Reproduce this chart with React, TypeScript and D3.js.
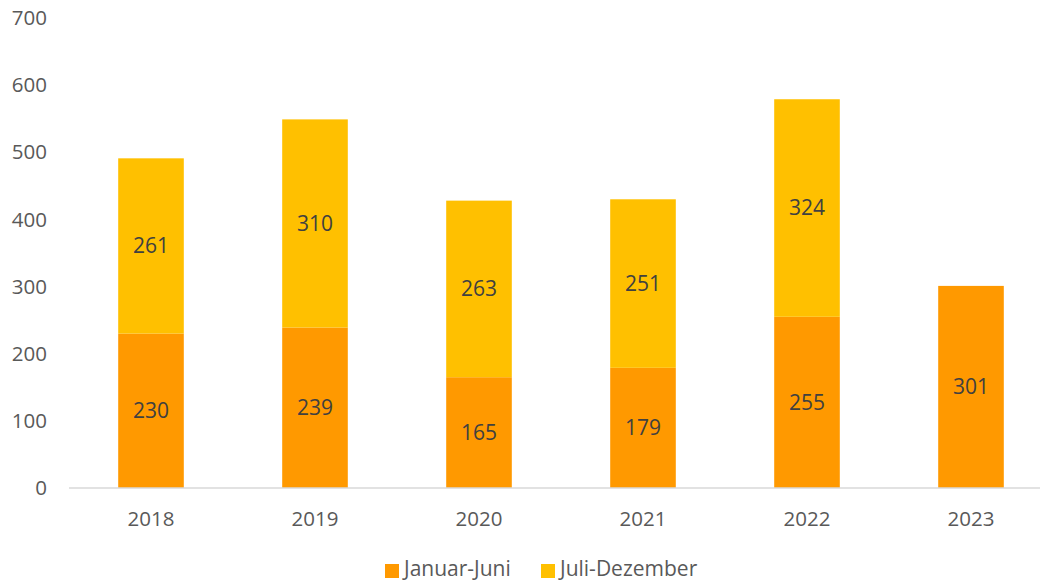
import React from "react";
import * as d3 from "d3";

const categories = ["2018", "2019", "2020", "2021", "2022", "2023"];
const janJun = [230, 239, 165, 179, 255, 301];
const julDez: (number | null)[] = [261, 310, 263, 251, 324, null];
const yTicks = [0, 100, 200, 300, 400, 500, 600, 700];
const seriesNames = ["Januar-Juni", "Juli-Dezember"];
const colors = ["#FF9900", "#FFC000"];

const W = 1040;
const H = 582;
const FONT = "'Open Sans', sans-serif";

export default function App() {
  const x = d3.scaleBand<string>().domain(categories).range([69, 1053]).paddingInner(0.6).paddingOuter(0.3);
  const y = d3.scaleLinear().domain([0, 700]).range([488, 18]);

  return (
    <svg width={W} height={H} style={{ position: "absolute", left: 0, top: 0 }} fontFamily={FONT}>
      <rect width={W} height={H} fill="#fff" />
      {yTicks.map((t) => (
        <text key={t} x={47} y={y(t)} dy="0.35em" textAnchor="end" fontSize={20.5} fill="#595959">
          {t}
        </text>
      ))}
      {categories.map((c, i) => {
        const x0 = x(c)!;
        const bw = x.bandwidth();
        const a = janJun[i];
        const b = julDez[i];
        return (
          <g key={c}>
            <rect x={x0} y={y(a)} width={bw} height={y(0) - y(a)} fill={colors[0]} />
            <text x={x0 + bw / 2} y={(y(0) + y(a)) / 2} dy="0.35em" textAnchor="middle" fontSize={21} fill="#404040">
              {a}
            </text>
            {b != null && (
              <>
                <rect x={x0} y={y(a + b)} width={bw} height={y(a) - y(a + b)} fill={colors[1]} />
                <text x={x0 + bw / 2} y={(y(a) + y(a + b)) / 2} dy="0.35em" textAnchor="middle" fontSize={21} fill="#404040">
                  {b}
                </text>
              </>
            )}
            <text x={x0 + bw / 2} y={519} dy="0.35em" textAnchor="middle" fontSize={20.5} fill="#595959">
              {c}
            </text>
          </g>
        );
      })}
      <line x1={69} x2={1053} y1={y(0)} y2={y(0)} stroke="#D9D9D9" strokeWidth={1.5} />
      <g>
        <rect x={385} y={564} width={14} height={14} fill={colors[0]} />
        <text x={404} y={569} dy="0.35em" fontSize={21} fill="#595959">{seriesNames[0]}</text>
        <rect x={541} y={564} width={14} height={14} fill={colors[1]} />
        <text x={560} y={569} dy="0.35em" fontSize={21} fill="#595959">{seriesNames[1]}</text>
      </g>
    </svg>
  );
}
